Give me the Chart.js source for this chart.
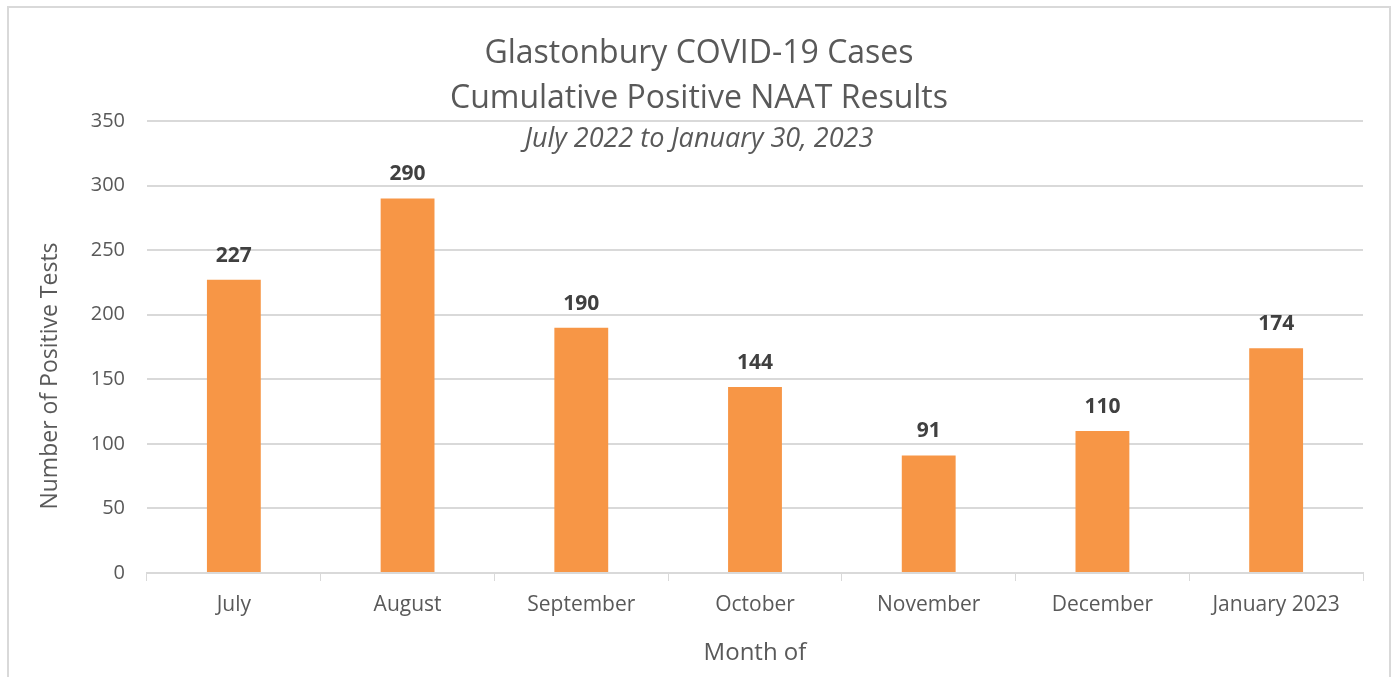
<!DOCTYPE html>
<html>
<head>
<meta charset="utf-8">
<script src="https://cdn.jsdelivr.net/npm/chart.js@4.4.0/dist/chart.umd.min.js"></script>
<style>
  html, body { margin: 0; padding: 0; background: #fff; overflow: hidden; }
  #wrap { position: absolute; left: 0; top: 0; width: 1397px; height: 677px; }
</style>
</head>
<body>
<div id="wrap"><canvas id="myChart"></canvas></div>
<script>
var months = ["July", "August", "September", "October", "November", "December", "January 2023"];
var positives = [227, 290, 190, 144, 91, 110, 174];
var titleLines = ["Glastonbury COVID-19 Cases", "Cumulative Positive NAAT Results"];
var subTitle = "July 2022 to January 30, 2023";
var yTitle = "Number of Positive Tests";
var xTitle = "Month of";

var FONT = "'Open Sans', sans-serif";
var textGray = "#595959";

// frame + titles drawn by hand, Excel style
var decor = {
  id: "decor",
  beforeDraw: function(chart) {
    var c = chart.ctx;
    c.save();
    c.strokeStyle = "#d9d9d9";
    c.lineWidth = 2;
    c.strokeRect(8, 7, 1382, 700);
    c.restore();
  },
  afterDraw: function(chart) {
    var c = chart.ctx;
    var cx = 699;
    c.save();
    c.fillStyle = textGray;
    c.textAlign = "center";
    c.textBaseline = "middle";
    c.font = "32px " + FONT;
    c.fillText(titleLines[0], cx, 54);
    c.fillText(titleLines[1], cx, 99);
    c.font = "italic 27px " + FONT;
    c.fillText(subTitle, cx, 139);
    // y axis title
    c.font = "23px " + FONT;
    c.translate(50, 376);
    c.rotate(-Math.PI / 2);
    c.fillText(yTitle, 0, 0);
    c.restore();

    // value labels
    var meta = chart.getDatasetMeta(0);
    c.save();
    c.fillStyle = "#404040";
    c.font = "bold 21px " + FONT;
    c.textAlign = "center";
    c.textBaseline = "middle";
    meta.data.forEach(function(bar, i) {
      c.fillText(positives[i], bar.x, bar.y - 24);
    });
    c.restore();
  }
};

var ctx = document.getElementById("myChart").getContext("2d");
var myChart = new Chart(ctx, {
  type: "bar",
  data: {
    labels: months,
    datasets: [{
      label: "Positive tests",
      data: positives,
      backgroundColor: "#F79646",
      borderWidth: 0,
      categoryPercentage: 1,
      barPercentage: 0.31
    }]
  },
  options: {
    responsive: true,
    maintainAspectRatio: false,
    animation: false,
    layout: { padding: { top: 121, right: 34, left: 0, bottom: 0 } },
    plugins: {
      legend: { display: false },
      tooltip: { enabled: false },
      title: { display: false }
    },
    scales: {
      x: {
        grid: { display: true, drawOnChartArea: false, color: "#d9d9d9", tickLength: 8, offset: true },
        border: { color: "#d9d9d9", width: 2 },
        ticks: { color: textGray, font: { family: FONT, size: 21 }, padding: 11, maxRotation: 0 },
        title: { display: true, text: xTitle, color: textGray, font: { family: FONT, size: 24 }, padding: { top: 14, bottom: 9 } },
        afterFit: function(axis) { axis.height = 104; }
      },
      y: {
        min: 0,
        max: 350,
        ticks: { stepSize: 50, color: textGray, font: { family: FONT, size: 20 }, padding: 22 },
        grid: { color: "#d9d9d9", lineWidth: 2, drawTicks: false },
        border: { display: false },
        afterFit: function(axis) { axis.width = 147; }
      }
    }
  },
  plugins: [decor]
});
</script>
</body>
</html>
